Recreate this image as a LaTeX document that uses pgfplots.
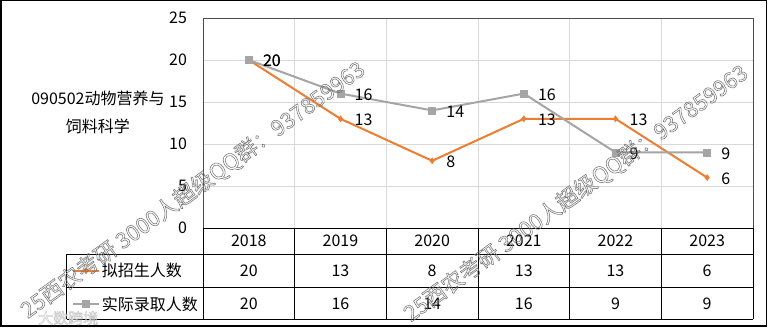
\documentclass[border=0pt]{standalone}
\usepackage{pgfplots}
\pgfplotsset{compat=1.18}
\usepackage{fontspec}
\setmainfont{Noto Sans CJK SC}
\definecolor{cOrange}{HTML}{ED7D31}
\definecolor{cGray}{HTML}{A5A5A5}
\definecolor{cGrid}{HTML}{D9D9D9}
\newcommand\fs{\fontsize{16}{19}\selectfont}
\newcommand\wm{\fontsize{22}{22}\selectfont}
\newcommand\outlined[1]{\special{pdf:literal direct 1 Tr 0.55 w}#1\special{pdf:literal direct 0 Tr}}
\begin{document}
\begin{tikzpicture}[x=1pt,y=1pt]
\useasboundingbox (0,0) rectangle (769,329);
\begin{axis}[
  at={(203pt,101pt)}, anchor=south west, scale only axis,
  width=550pt, height=210pt,
  xmin=-0.5, xmax=5.5, ymin=0, ymax=25,
  xtick={0,1,2,3,4,5},
  xticklabels={2018,2019,2020,2021,2022,2023},
  ytick={0,5,10,15,20,25},
  minor xtick={-0.5,0.5,1.5,2.5,3.5,4.5,5.5},
  xmajorgrids=false, xminorgrids=true, ymajorgrids=true,
  grid style={cGrid, line width=0.8pt},
  minor grid style={cGrid, line width=0.8pt},
  major tick length=0pt, minor tick length=0pt,
  axis line style={black!70, line width=0.8pt},
  tick label style={font=\fs, text=black},
  /pgf/number format/assume math mode=true,
  yticklabel style={xshift=-12.5pt},
  xticklabel style={anchor=center, yshift=-13pt},
  ylabel={090502动物营养与\\饲料科学},
  ylabel style={rotate=-90, at={(axis description cs:-0.191,0.55)}, anchor=center, align=center, font=\fontsize{16}{28}\selectfont, text=black},
  clip=false,
  legend style={at={(-0.2382,-0.1238)}, anchor=north west, draw=none, fill=none,
    inner sep=0pt, outer sep=0pt, row sep=0pt, column sep=2pt,
    cells={anchor=west}, nodes={font=\fs, inner sep=0pt, minimum height=33.5pt, text=black}},
  legend image code/.code={\draw[mark repeat=2, mark phase=2, #1] plot coordinates {(0pt,0pt) (13pt,0pt) (26pt,0pt)};},
]
\addplot[cOrange, line width=2pt, mark=diamond*, mark size=3pt, mark options={solid, fill=cOrange, line width=0.5pt},
  nodes near coords,
  every node near coord/.append style={anchor=west, xshift=13pt, yshift=-1pt, font=\fs, text=black, inner sep=1pt}]
  coordinates {(0,20) (1,13) (2,8) (3,13) (4,13) (5,6)};
\addlegendentry{拟招生人数}
\addplot[cGray, line width=2pt, mark=square*, mark size=3.5pt, mark options={solid, fill=cGray, line width=0.5pt},
  nodes near coords,
  every node near coord/.append style={anchor=west, xshift=13pt, yshift=-1pt, font=\fs, text=black, inner sep=1pt}]
  coordinates {(0,20) (1,16) (2,14) (3,16) (4,9) (5,9)};
\addlegendentry{实际录取人数}
% data table values
\addplot[draw=none, mark=none, forget plot, point meta=explicit, nodes near coords,
  every node near coord/.append style={anchor=center, font=\fs, text=black, inner sep=0pt}]
  coordinates {(0,-5.12)[20] (1,-5.12)[13] (2,-5.12)[8] (3,-5.12)[13] (4,-5.12)[13] (5,-5.12)[6]};
\addplot[draw=none, mark=none, forget plot, point meta=explicit, nodes near coords,
  every node near coord/.append style={anchor=center, font=\fs, text=black, inner sep=0pt}]
  coordinates {(0,-8.99)[20] (1,-8.99)[16] (2,-8.99)[14] (3,-8.99)[16] (4,-8.99)[9] (5,-8.99)[9]};
\end{axis}
% data table grid
\begin{scope}[line width=0.8pt, black]
\draw (203,101) -- (753,101);
\draw (66.7,75) -- (753,75);
\draw (66.7,41.5) -- (753,41.5);
\draw (66.7,10) -- (753,10);
\draw (66.7,10) -- (66.7,75);
\foreach \k in {0,...,6} {\draw ({203+91.667*\k},10) -- ({203+91.667*\k},101);}
\end{scope}
% outer frame
\draw[line width=1.5pt, black] (0.75,3) rectangle (766.5,328.25);
% watermarks
\node[rotate=36, text=black!55, inner sep=0pt, font=\wm] at (193,139) {\outlined{25西农考研 3000人超级QQ群：937859963}};
\node[rotate=36, text=black!55, inner sep=0pt, font=\wm] at (576,135.5) {\outlined{25西农考研 3000人超级QQ群：937859963}};
\node[text=black!20, inner sep=0pt, font=\fontsize{15}{15}\selectfont, anchor=west] at (38,11) {\outlined{大数跨境}};
\end{tikzpicture}
\end{document}
